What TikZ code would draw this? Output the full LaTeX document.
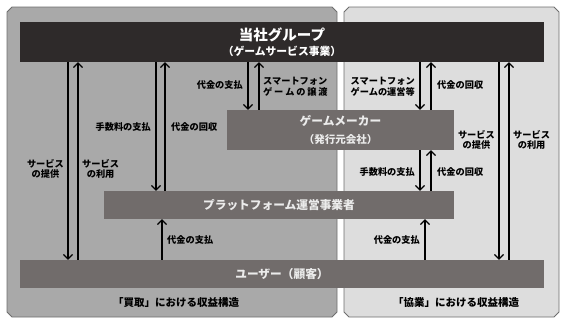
\documentclass[tikz,border=0pt]{standalone}
\usepackage{fontspec}
\setmainfont{Noto Sans CJK JP}
\usetikzlibrary{arrows.meta, positioning}

\definecolor{darkbox}{HTML}{2E2A2A}
\definecolor{midbox}{HTML}{716C6B}
\definecolor{leftpanel}{HTML}{A9A9A9}
\definecolor{rightpanel}{HTML}{DDDDDD}
\definecolor{panelline}{HTML}{6E6E6E}

\begin{document}
\begin{tikzpicture}[
    x=1pt, y=-1pt,
    panel/.style={draw=panelline, line width=0.8pt},
    topbox/.style={rectangle, fill=darkbox, text=white, minimum width=524, minimum height=40, inner sep=0pt, align=center, font=\bfseries},
    box/.style={rectangle, fill=midbox, text=white!92!black, inner sep=0pt, align=center, font=\fontsize{11.7}{18}\selectfont\bfseries},
    lbl/.style={inner sep=0pt, align=center, font=\fontsize{9.2}{10.5}\selectfont\bfseries},
    captext/.style={inner sep=0pt, font=\fontsize{10.5}{12}\selectfont\bfseries},
    arr/.style={line width=1.2pt, -{Straight Barb[length=4.5pt, width=9pt, line width=1.2pt]}}
]
    \useasboundingbox (0,0) rectangle (564,324);
    % Panels
    \draw[panel, fill=leftpanel] (7,12) -- (12,7) -- (332,7) -- (337,12) -- (337,312) -- (332,317) -- (12,317) -- (7,312) -- cycle;
    \draw[panel, fill=rightpanel] (344,12) -- (349,7) -- (554,7) -- (559,12) -- (559,312) -- (554,317) -- (349,317) -- (344,312) -- cycle;
    % Boxes
    \node[topbox] (grp) at (282,42) {\fontsize{14.5}{16}\selectfont 当社グループ\\[3pt]\fontsize{10.8}{12}\selectfont （ゲームサービス事業）};
    \node[box, minimum width=227, minimum height=40] (maker) at (340.5,130) {ゲームメーカー\\\fontsize{10.5}{12}\selectfont （発行元会社）};
    \node[box, minimum width=350, minimum height=28] (pf) at (279,205) {プラットフォーム運営事業者};
    \node[box, minimum width=524, minimum height=28] (user) at (282,274) {ユーザー（顧客）};
    % Left side: purchase
    \draw[arr] (68,0 |- grp.south) -- (68,0 |- user.north);
    \draw[arr] (78,0 |- user.north) -- (78,0 |- grp.south);
    \node[lbl, anchor=east] (l1) at (64,169) {サービス\\の提供};
    \node[lbl, anchor=west] (l2) at (82,169) {サービス\\の利用};
    \draw[arr] (156,0 |- grp.south) -- (156,0 |- pf.north);
    \draw[arr] (165,0 |- pf.north) -- (165,0 |- grp.south);
    \node[lbl, anchor=east] (l3) at (151,127) {手数料の支払};
    \node[lbl, anchor=west] (l4) at (171,127) {代金の回収};
    \draw[arr] (248,0 |- grp.south) -- (248,0 |- maker.north);
    \draw[arr] (259,0 |- maker.north) -- (259,0 |- grp.south);
    \node[lbl, anchor=east] (l5) at (243,85) {代金の支払};
    \node[lbl, anchor=west, align=left] (l6) at (263,87) {スマートフォン\\\makebox[7em][s]{ゲ ー ム の 譲 渡}};
    \draw[arr] (162,0 |- user.north) -- (162,0 |- pf.south);
    \node[lbl, anchor=west] (l7) at (167,240) {代金の支払};
    % Right side: cooperation
    \draw[arr] (420,0 |- grp.south) -- (420,0 |- maker.north);
    \draw[arr] (431,0 |- maker.north) -- (431,0 |- grp.south);
    \node[lbl, anchor=east, align=left] (r1) at (415,87) {スマートフォン\\ゲームの運営等};
    \node[lbl, anchor=west] (r2) at (437,85) {代金の回収};
    \draw[arr] (420,0 |- maker.south) -- (420,0 |- pf.north);
    \draw[arr] (431,0 |- pf.north) -- (431,0 |- maker.south);
    \node[lbl, anchor=east] (r3) at (415,172) {手数料の支払};
    \node[lbl, anchor=west] (r4) at (437,172) {代金の回収};
    \draw[arr] (425,0 |- user.north) -- (425,0 |- pf.south);
    \node[lbl, anchor=east] (r5) at (420,240) {代金の支払};
    \draw[arr] (499,0 |- grp.south) -- (499,0 |- user.north);
    \draw[arr] (509,0 |- user.north) -- (509,0 |- grp.south);
    \node[lbl, anchor=east] (r6) at (495,140) {サービス\\の提供};
    \node[lbl, anchor=west] (r7) at (513,140) {サービス\\の利用};
    % Captions
    \node[captext] (c1) at (176,303) {「買取」における収益構造};
    \node[captext] (c2) at (456,303) {「協業」における収益構造};
\end{tikzpicture}
\end{document}
